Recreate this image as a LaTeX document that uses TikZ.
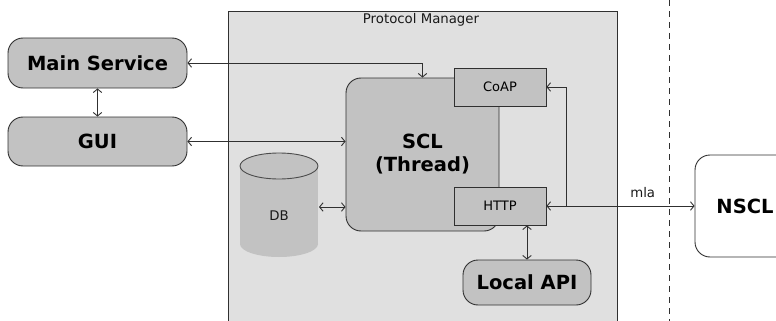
\documentclass[tikz,border=0pt]{standalone}
\usepackage{fontspec}
\setmainfont{DejaVu Sans}
\usetikzlibrary{arrows.meta}
\definecolor{pmgray}{HTML}{E0E0E0}
\definecolor{boxgray}{HTML}{C2C2C2}
\definecolor{linegray}{HTML}{303030}
\begin{document}
\begin{tikzpicture}[x=1pt,y=-1pt,
    >={Straight Barb[length=3.5pt,width=8.5pt]},
    bigbox/.style={draw=linegray, fill=boxgray, rounded corners=15pt, line width=0.9pt, font=\fontsize{19.5}{23}\selectfont\bfseries, align=center, inner sep=0pt},
    smallbox/.style={draw=linegray, fill=boxgray, line width=0.9pt, font=\fontsize{13}{15}\selectfont, inner sep=0pt},
    smalltext/.style={font=\fontsize{13.3}{15}\selectfont, text=black!90},
    link/.style={draw=linegray, line width=0.9pt}]
    \useasboundingbox (0,0) rectangle (776,321);
    \draw[draw=linegray, fill=pmgray, line width=0.9pt] (228,11) rectangle (617,330);
    \node[smalltext] (pmtitle) at (421,20) {Protocol Manager};
    \draw[linegray, line width=0.9pt, dash pattern=on 6pt off 5pt] (669,0) -- (669,321);
    \node[bigbox, minimum width=179pt, minimum height=50pt] (main) at (97.5,63) {Main Service};
    \node[bigbox, minimum width=179pt, minimum height=49pt] (gui) at (97.5,141.5) {GUI};
    \node[bigbox, minimum width=153pt, minimum height=153pt] (scl) at (422.5,154.5) {SCL\\(Thread)};
    \node[smallbox, minimum width=92pt, minimum height=38pt] (coap) at (500,87) {CoAP};
    \node[smallbox, minimum width=92pt, minimum height=38pt] (http) at (500,206) {HTTP};
    \node[bigbox, minimum width=128pt, minimum height=45pt] (local) at (527,282.5) {Local API};
    \node[bigbox, fill=white, minimum width=100pt, minimum height=102pt] (nscl) at (745,206) {NSCL};
    \fill[boxgray] (240,166) rectangle (318,244);
    \fill[boxgray] (279,244) ellipse (39pt and 13pt);
    \draw[draw=gray!60!black, fill=boxgray, line width=0.9pt] (279,166) ellipse (39pt and 13pt);
    \node[smalltext] (db) at (279,216) {DB};
    \coordinate (dbside) at (319,207);
    \coordinate (branch) at (566,206);
    \draw[link, <->] (main) -- (gui);
    \draw[link, <->] (main.east) -| (scl.north);
    \draw[link, <->] (gui.east) -- (gui.east -| scl.west);
    \draw[link, <->] (dbside) -- (dbside -| scl.west);
    \draw[link, <->] (http.east) -- (nscl.west) node[smalltext, pos=0.65, above=5pt] (mla) {mla};
    \draw[link, ->] (branch) |- (coap.east);
    \draw[link, <->] (local.north) -- (local.north |- http.south);
\end{tikzpicture}
\end{document}
